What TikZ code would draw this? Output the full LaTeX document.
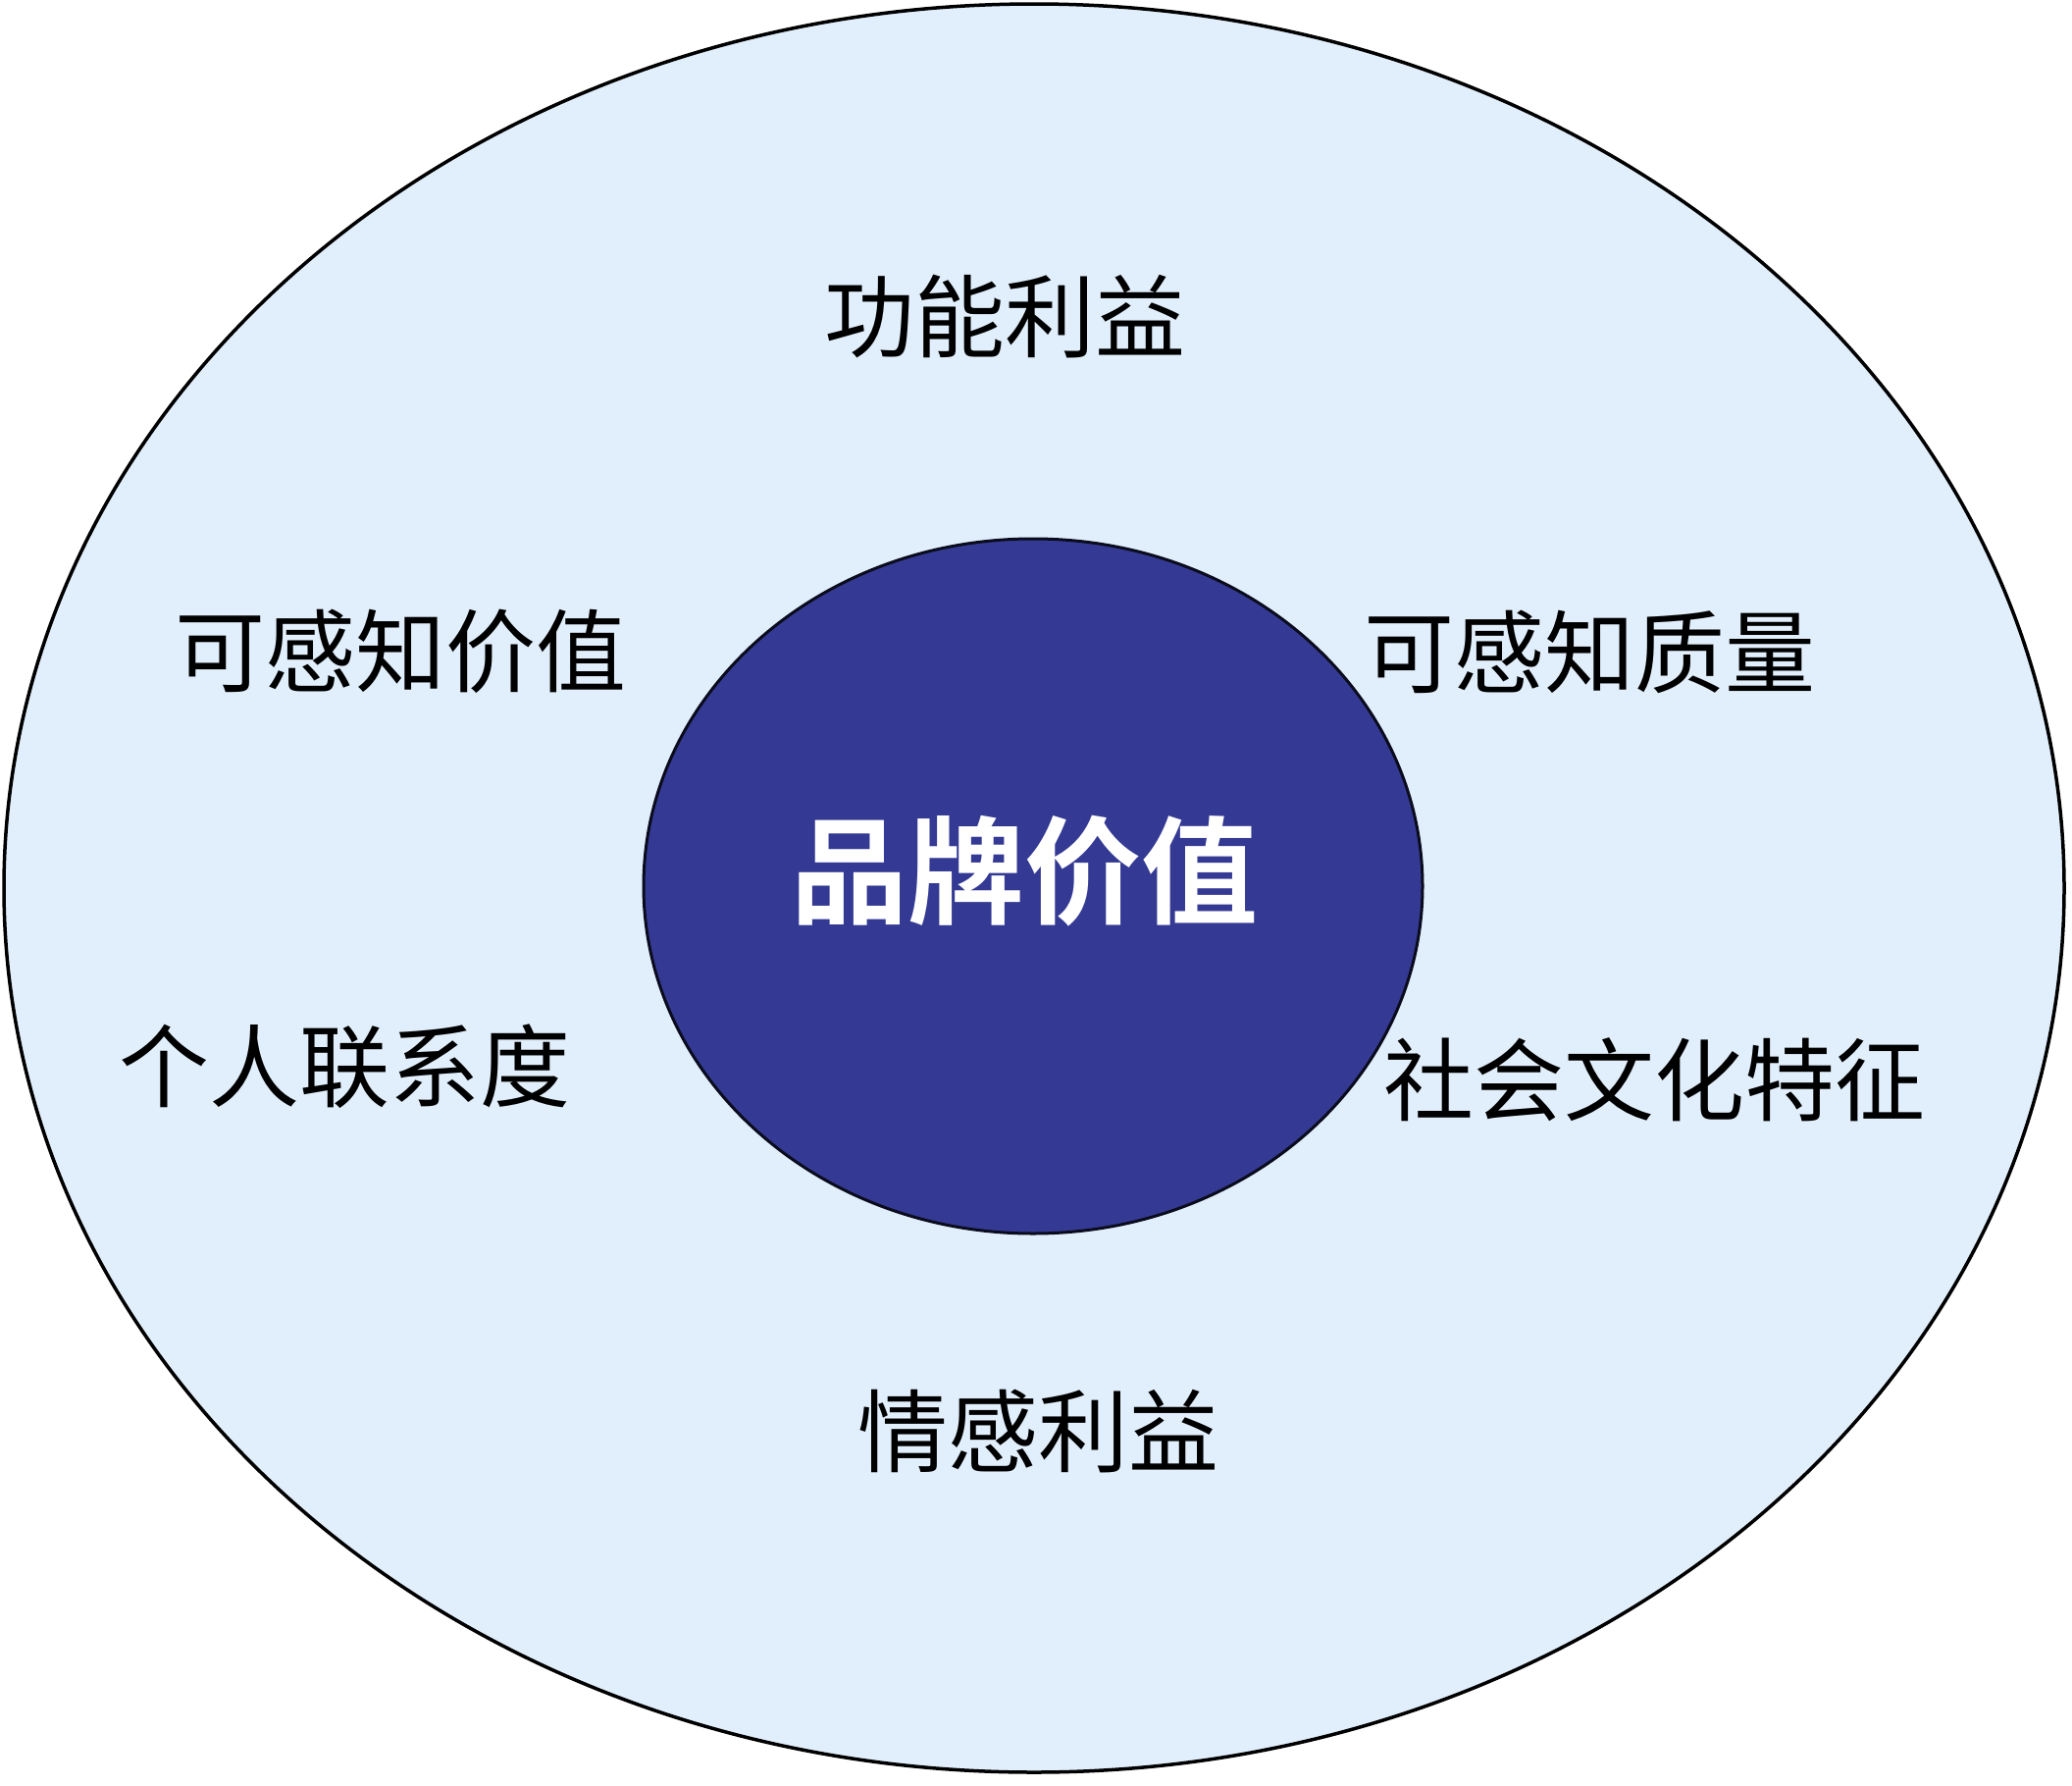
\documentclass[tikz,border=0pt]{standalone}
\usepackage{fontspec}
\newfontfamily\cjk{Noto Sans CJK SC}
\newfontfamily\cjkbold{Noto Sans CJK SC Bold}
\definecolor{outerfill}{HTML}{E1EEFB}
\definecolor{innerfill}{HTML}{343A93}
\tikzset{
  outerring/.style={draw=black, line width=3.5pt, fill=outerfill},
  innercore/.style={draw=black!80!innerfill, line width=3pt, fill=innerfill},
  label/.style={font=\cjk\fontsize{92}{104}\selectfont, text=black, inner sep=0pt, anchor=center},
  corelabel/.style={font=\cjkbold\fontsize{119}{135}\selectfont, text=white, inner sep=0pt, anchor=center}
}
\begin{document}
\begin{tikzpicture}[x=1pt,y=-1pt]
\useasboundingbox (0,0) rectangle (2112,1820);
\fill[white] (0,0) rectangle (2112,1820);
\draw[outerring] (1054,905) ellipse [x radius=1050, y radius=901];
\draw[innercore] (1053,903) ellipse [x radius=397, y radius=354];
\node[corelabel] (core) at (1044,888) {品牌价值};
\node[label] (gn) at (1024,322) {功能利益};
\node[label] (kgjz) at (408,664) {可感知价值};
\node[label] (kgzl) at (1620,664) {可感知质量};
\node[label] (grlx) at (351,1087) {个人联系度};
\node[label] (shwh) at (1686,1100) {社会文化特征};
\node[label] (qg) at (1058,1458) {情感利益};
\end{tikzpicture}
\end{document}
